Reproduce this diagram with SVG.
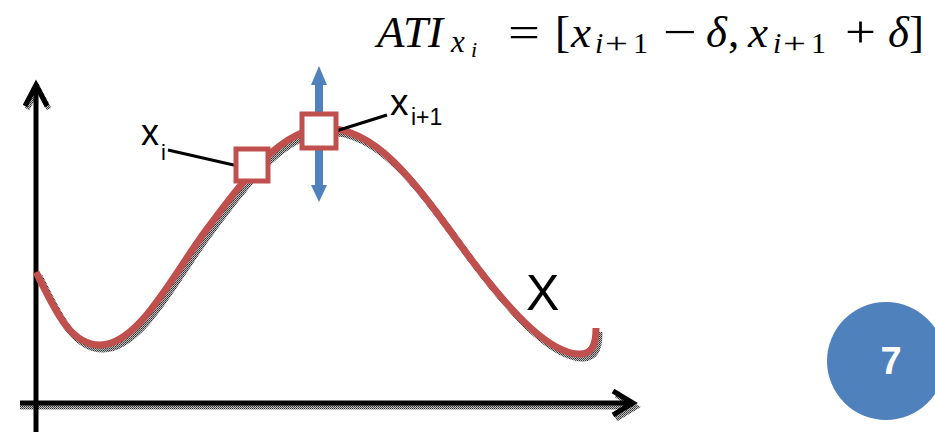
<svg xmlns="http://www.w3.org/2000/svg" width="935" height="432" viewBox="0 0 935 432">
<defs>
<pattern id="stip" width="2" height="2" patternUnits="userSpaceOnUse">
<rect width="2" height="2" fill="#bdbdbd"/>
<rect width="1" height="1" fill="#333"/>
<rect x="1" y="1" width="1" height="1" fill="#555"/>
</pattern>
<style>
.ax{fill:none;stroke:#000;stroke-width:5;stroke-linejoin:miter}
.axs{fill:none;stroke:url(#stip);stroke-width:5}
.crv{fill:none;stroke:#C0504D;stroke-width:7;stroke-linecap:butt}
.crvs{fill:none;stroke:url(#stip);stroke-width:7}
.box{fill:#fff;stroke:#C0504D;stroke-width:5}
.lead{stroke:#000;stroke-width:3}
.lbl{font-family:"Liberation Sans",Arial,sans-serif;fill:#000}
.m{font-family:"Liberation Serif","Times New Roman",serif;font-style:italic;fill:#000}
.r{font-family:"Liberation Serif","Times New Roman",serif;fill:#000}
</style>
</defs>
<g id="formula">
<text class="m" x="377" y="47" font-size="45">A</text>
<text class="m" x="403" y="47" font-size="45">T</text>
<text class="m" x="428" y="47" font-size="45">I</text>
<text class="m" x="451" y="52" font-size="31">x</text>
<text class="m" x="471" y="57" font-size="22">i</text>
<text class="r" x="508" y="47" font-size="45" textLength="32" lengthAdjust="spacingAndGlyphs">=</text>
<text class="r" x="555" y="47" font-size="45">[</text>
<text class="m" x="571" y="47" font-size="45">x</text>
<text class="m" x="595" y="53" font-size="30">i</text>
<text class="r" x="605" y="53" font-size="30" textLength="23" lengthAdjust="spacingAndGlyphs">+</text>
<text class="r" x="633" y="53" font-size="30">1</text>
<text class="r" x="663" y="47" font-size="45" textLength="34" lengthAdjust="spacingAndGlyphs">−</text>
<text class="m" x="706" y="47" font-size="45">δ</text>
<text class="r" x="728" y="47" font-size="45">,</text>
<text class="m" x="748" y="47" font-size="45">x</text>
<text class="m" x="773" y="53" font-size="30">i</text>
<text class="r" x="783" y="53" font-size="30" textLength="23" lengthAdjust="spacingAndGlyphs">+</text>
<text class="r" x="811" y="53" font-size="30">1</text>
<text class="r" x="845" y="47" font-size="45" textLength="31" lengthAdjust="spacingAndGlyphs">+</text>
<text class="m" x="888" y="47" font-size="45">δ</text>
<text class="r" x="909" y="47" font-size="45">]</text>
</g>
<g id="axes">
<line class="axs" x1="20" y1="407" x2="630" y2="407"/>
<polyline class="axs" points="616,395 636,407 616,419"/>
<polyline class="axs" points="27,109 38,88 49,109"/>
<line class="ax" x1="36" y1="432" x2="36" y2="86"/>
<polyline class="ax" points="25,106 36,85 47,106"/>
<line class="ax" x1="20" y1="403" x2="630" y2="403"/>
<polyline class="ax" points="613,391 633,403 613,415"/>
</g>
<g id="curve">
<path class="crvs" transform="translate(3,4)" d="M36,272 C55,310 70,345 100,345 C140,345 175,270 210,225 C240,185 280,128 325,128 C380,128 420,190 470,258 C515,318 550,352 578,354 C592,355 596,345 596,328"/>
<path class="crv" d="M36,272 C55,310 70,345 100,345 C140,345 175,270 210,225 C240,185 280,128 325,128 C380,128 420,190 470,258 C515,318 550,352 578,354 C592,355 596,345 596,328"/>
</g>
<g id="delta-arrow">
<rect x="315" y="84" width="8" height="102" fill="#4F81BD"/>
<polygon points="319,66 327,85 311,85" fill="#4F81BD"/>
<polygon points="319,202 327,185 311,185" fill="#4F81BD"/>
</g>
<g id="connectors">
<line class="lead" x1="168" y1="150" x2="238" y2="166"/>
<line class="lead" x1="336" y1="131" x2="387" y2="115"/>
</g>
<g id="node-xi">
<rect class="box" x="236" y="149" width="32" height="32"/>
<text class="lbl" x="141" y="145" font-size="36">x</text>
<text class="lbl" x="161" y="160" font-size="22">i</text>
</g>
<g id="node-xi1">
<rect class="box" x="302" y="114" width="34" height="34"/>
<text class="lbl" x="390" y="115" font-size="37">x</text>
<text class="lbl" x="411" y="125" font-size="23">i+1</text>
</g>
<g id="label-X">
<text class="lbl" x="526" y="310" font-size="50">X</text>
</g>
<g id="badge">
<circle cx="886" cy="361" r="59" fill="#4F81BD"/>
<text x="891" y="374" font-size="38" font-weight="bold" fill="#fff" text-anchor="middle" font-family="Liberation Sans,Arial,sans-serif">7</text>
</g>
</svg>
